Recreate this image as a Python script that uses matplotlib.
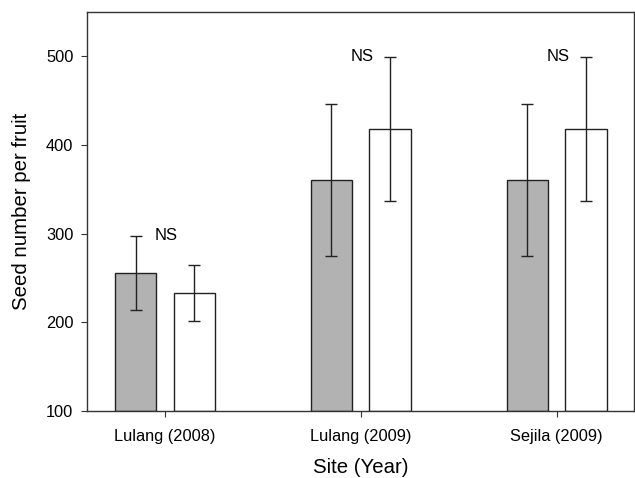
import numpy as np
import matplotlib.pyplot as plt

plt.rcParams['font.family'] = ['Liberation Sans', 'DejaVu Sans']

sites = ["Lulang (2008)", "Lulang (2009)", "Sejila (2009)"]
gray_mean = [255.6, 360.5, 360.5]
gray_err = [42, 86, 86]
white_mean = [233, 418, 418]
white_err = [32, 81.5, 81.5]
ns_labels = ["NS", "NS", "NS"]

x = np.arange(len(sites))
w = 0.212
off = 0.15

fig = plt.figure(figsize=(6.35, 4.78), dpi=100)
ax = fig.add_axes([0.137, 0.1408, 0.861, 0.834])

ax.bar(x - off, np.array(gray_mean) - 100, w, bottom=100, color="#b2b2b2",
       edgecolor="#222222", linewidth=1)
ax.bar(x + off, np.array(white_mean) - 100, w, bottom=100, color="white",
       edgecolor="#222222", linewidth=1)
ax.errorbar(x - off, gray_mean, yerr=gray_err, fmt="none", ecolor="#222222",
            elinewidth=1, capsize=4.3, capthick=1)
ax.errorbar(x + off, white_mean, yerr=white_err, fmt="none", ecolor="#222222",
            elinewidth=1, capsize=4.3, capthick=1)

for i, lab in enumerate(ns_labels):
    top = max(gray_mean[i] + gray_err[i], white_mean[i] + white_err[i])
    ax.text(x[i] + 0.005, top, lab, ha="center", va="center", fontsize=12)

ax.set_xlim(-0.398, 2.393)
ax.set_ylim(100, 550)
ax.set_yticks([100, 200, 300, 400, 500])
ax.set_xticks(x)
ax.set_xticklabels(sites)
ax.tick_params(axis="both", labelsize=11.8, direction="out", color="#333333")
ax.tick_params(axis="y", length=4.3, pad=5.5)
ax.tick_params(axis="x", length=4, pad=9.5)
for s in ax.spines.values():
    s.set_color("#333333")
    s.set_linewidth(1)

ax.set_ylabel("Seed number per fruit", fontsize=14.7, labelpad=11)
ax.set_xlabel("Site (Year)", fontsize=14.7, labelpad=9.5)

fig.savefig("out.png", dpi=100)
